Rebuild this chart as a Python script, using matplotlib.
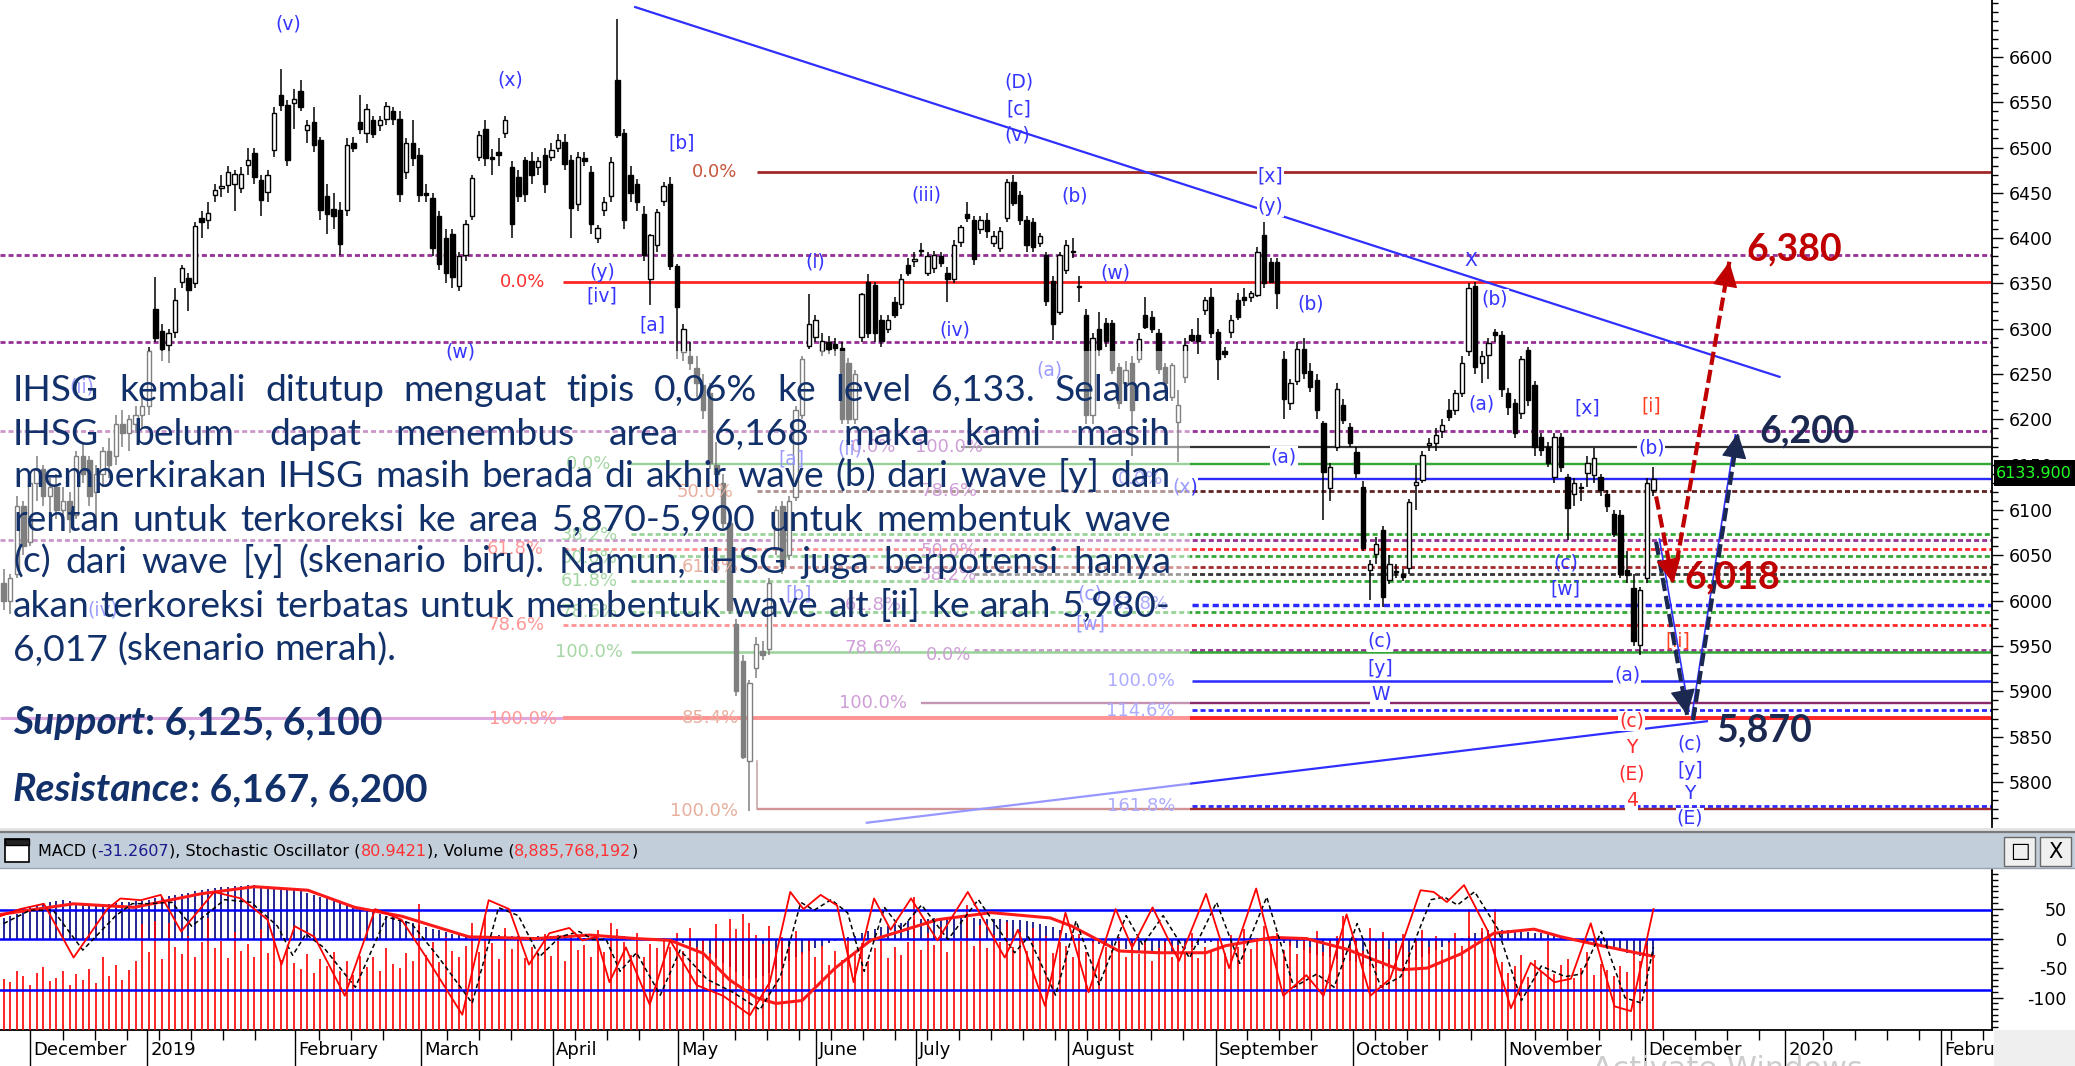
import numpy as np
import matplotlib
matplotlib.use("Agg")
import matplotlib.pyplot as plt
from matplotlib.patches import Rectangle, FancyArrowPatch
from matplotlib import font_manager as fm
from matplotlib.transforms import blended_transform_factory

# ===================== DATA =====================
opens = [6020,6000,6030,6105,6065,6130,6145,6115,6125,6100,
         6110,6095,6160,6155,6120,6140,6165,6160,6195,6185,
         6195,6205,6215,6322,6298,6282,6297,6352,6356,6350,
         6422,6420,6448,6455,6459,6460,6455,6481,6494,6464,
         6451,6497,6558,6547,6549,6562,6519,6528,6508,6446,
         6432,6431,6431,6505,6528,6516,6530,6525,6532,6540,
         6532,6473,6505,6492,6450,6444,6424,6400,6405,6347,
         6381,6424,6490,6521,6490,6495,6516,6479,6468,6486,
         6485,6478,6492,6490,6500,6506,6486,6438,6488,6473,
         6400,6431,6446,6574,6516,6470,6460,6427,6355,6393,
         6441,6460,6369,6274,6270,6257,6238,6229,6150,6130,
         6086,5974,5933,5823,5926,5945,5947,6057,6105,6050,
         6114,6205,6281,6291,6276,6285,6283,6279,6262,6200,
         6291,6352,6348,6310,6300,6330,6327,6370,6375,6386,
         6362,6367,6380,6362,6355,6396,6427,6420,6410,6420,
         6395,6389,6422,6462,6448,6420,6418,6395,6381,6353,
         6319,6365,6385,6346,6315,6205,6300,6306,6306,6258,
         6240,6262,6267,6315,6313,6295,6258,6225,6197,6247,
         6293,6293,6321,6335,6297,6275,6297,6332,6335,6335,
         6337,6404,6374,6374,6267,6218,6242,6278,6253,6244,
         6196,6124,6170,6216,6192,6164,6126,6034,6052,6078,
         6023,6032,6030,6036,6128,6133,6172,6174,6187,6210,
         6210,6229,6275,6347,6262,6271,6296,6293,6229,6218,
         6207,6277,6238,6181,6170,6137,6181,6137,6118,6125,
         6141,6139,6137,6118,6096,6095,6034,6014,5951,6025,
         6122]
highs = [6035,6030,6115,6110,6140,6160,6150,6135,6140,6125,
         6120,6165,6175,6160,6150,6170,6180,6205,6210,6205,
         6215,6230,6280,6357,6305,6300,6345,6370,6362,6418,
         6430,6440,6460,6470,6480,6475,6478,6500,6500,6470,
         6475,6545,6587,6552,6565,6575,6530,6545,6512,6460,
         6450,6440,6510,6512,6558,6548,6535,6535,6550,6545,
         6540,6510,6530,6500,6460,6450,6430,6410,6410,6385,
         6420,6470,6518,6530,6498,6510,6535,6485,6475,6490,
         6495,6490,6500,6505,6515,6515,6492,6495,6495,6480,
         6415,6445,6490,6642,6520,6480,6465,6435,6405,6432,
         6462,6468,6372,6305,6285,6270,6250,6240,6175,6140,
         6090,5980,5940,5912,5960,5955,6025,6105,6110,6115,
         6215,6270,6338,6315,6295,6292,6290,6285,6268,6255,
         6340,6360,6352,6315,6315,6335,6360,6378,6385,6395,
         6385,6386,6385,6368,6398,6415,6440,6425,6425,6428,
         6408,6412,6465,6470,6452,6425,6422,6406,6385,6358,
         6385,6398,6400,6358,6322,6295,6318,6312,6310,6262,
         6265,6270,6295,6335,6320,6300,6262,6262,6232,6290,
         6300,6312,6335,6345,6300,6280,6315,6340,6345,6342,
         6390,6418,6378,6378,6275,6245,6285,6290,6262,6250,
         6198,6152,6240,6222,6196,6170,6132,6045,6070,6082,
         6050,6040,6035,6112,6150,6165,6180,6190,6200,6222,
         6232,6270,6350,6352,6275,6290,6300,6298,6235,6222,
         6270,6280,6242,6185,6175,6185,6185,6140,6135,6130,
         6160,6168,6140,6122,6100,6100,6055,6030,6015,6135,
         6148]
lows = [5990,5985,6025,6050,6060,6110,6105,6095,6090,6085,
        6075,6090,6130,6105,6080,6125,6135,6150,6170,6165,
        6185,6190,6205,6285,6265,6262,6290,6345,6320,6345,
        6400,6410,6440,6445,6450,6430,6450,6470,6460,6425,
        6440,6490,6540,6480,6520,6540,6505,6495,6420,6405,
        6410,6381,6425,6495,6515,6505,6510,6518,6525,6525,
        6440,6465,6480,6440,6440,6380,6365,6350,6345,6342,
        6375,6420,6485,6480,6470,6480,6510,6400,6440,6440,
        6460,6470,6450,6485,6495,6475,6400,6430,6480,6405,
        6395,6425,6440,6510,6410,6440,6430,6375,6326,6385,
        6435,6365,6267,6265,6255,6225,6200,6145,6125,6080,
        5985,5895,5825,5768,5915,5935,5940,6050,6030,6045,
        6110,6200,6278,6285,6270,6272,6270,6195,6195,6195,
        6285,6290,6285,6280,6295,6312,6322,6358,6368,6380,
        6358,6362,6368,6330,6350,6390,6418,6370,6405,6400,
        6390,6385,6418,6435,6415,6385,6385,6390,6325,6288,
        6315,6360,6378,6330,6195,6195,6270,6280,6250,6212,
        6235,6160,6262,6300,6295,6250,6230,6220,6153,6240,
        6285,6272,6315,6290,6243,6268,6290,6310,6325,6330,
        6335,6345,6350,6322,6200,6210,6238,6245,6230,6200,
        6089,6110,6165,6195,6170,6135,6055,6001,6040,5993,
        6018,6025,6022,6030,6100,6130,6165,6165,6180,6198,
        6205,6225,6270,6250,6240,6245,6285,6225,6205,6180,
        6200,6215,6160,6160,6148,6130,6142,6067,6105,6110,
        6125,6130,6115,6098,6070,6025,6020,5950,5940,6020,
        6115]
closes = [6000,6025,6105,6060,6130,6145,6115,6125,6100,6110,
          6090,6160,6140,6115,6140,6165,6150,6195,6185,6200,
          6205,6215,6275,6290,6278,6295,6332,6367,6343,6413,
          6418,6428,6453,6458,6473,6471,6471,6486,6468,6442,
          6470,6538,6547,6486,6554,6545,6525,6503,6431,6427,
          6425,6394,6503,6500,6520,6543,6515,6530,6546,6532,
          6449,6505,6488,6448,6448,6389,6372,6362,6357,6380,
          6416,6466,6514,6488,6487,6492,6530,6416,6446,6449,
          6470,6485,6460,6497,6508,6482,6433,6490,6485,6416,
          6411,6440,6484,6514,6420,6450,6440,6381,6403,6429,
          6458,6369,6324,6300,6262,6240,6210,6152,6140,6086,
          5990,5900,5828,5909,5952,5940,6019,6100,6038,6110,
          6210,6267,6305,6310,6286,6278,6279,6200,6200,6250,
          6338,6295,6295,6286,6310,6315,6355,6362,6377,6387,
          6380,6381,6373,6355,6393,6412,6422,6377,6420,6408,
          6402,6408,6462,6439,6420,6393,6390,6402,6331,6305,
          6381,6393,6385,6346,6205,6290,6278,6286,6255,6218,
          6255,6210,6289,6302,6300,6256,6240,6260,6216,6282,
          6288,6286,6332,6295,6267,6272,6310,6313,6332,6339,
          6385,6350,6352,6339,6223,6240,6278,6251,6236,6210,
          6142,6148,6234,6199,6174,6141,6058,6041,6063,6004,
          6041,6033,6026,6109,6131,6161,6174,6183,6194,6203,
          6229,6262,6345,6258,6270,6284,6293,6234,6214,6185,
          6267,6221,6170,6166,6152,6181,6148,6102,6130,6124,
          6152,6157,6122,6104,6074,6030,6028,5955,6012,6130,
          6133.9]

# volume, billions of shares
volume_bn = [6.2,5.8,7.1,6.5,5.4,6.9,7.6,5.9,6.3,7.2,5.5,6.8,6.1,7.4,5.7,8.9,6.6,7.9,6.0,7.3,8.4,12.8,
             9.4,13.2,8.6,12.9,10.1,9.2,11.4,8.8,10.6,13.6,9.9,10.8,8.7,11.9,9.6,10.4,8.9,12.2,9.3,10.9,8.5,9.8,
             8.1,7.4,9.2,6.9,8.6,7.8,9.5,7.1,8.3,6.7,9.0,7.6,8.8,7.2,9.9,8.0,7.5,9.3,8.4,
             15.3,9.1,10.7,8.2,11.3,9.6,8.9,10.2,12.9,9.4,13.7,10.5,8.6,12.4,9.8,11.0,8.7,10.1,9.2,11.6,
             9.0,10.8,8.4,11.5,9.7,10.3,8.9,12.1,9.5,13.0,12.2,10.6,9.1,11.8,8.8,10.4,9.9,11.2,10.0,
             11.7,9.6,12.4,10.1,11.0,9.3,12.8,10.7,13.4,12.2,14.0,12.9,11.5,10.4,12.6,9.8,11.3,10.0,12.0,9.4,10.9,
             8.8,10.2,7.9,9.6,8.5,11.1,9.2,10.5,8.3,9.9,11.4,8.7,10.0,9.1,10.6,
             16.1,9.7,11.8,10.3,12.5,9.5,11.1,10.8,15.2,10.2,12.7,9.9,11.5,10.6,13.1,10.1,11.9,9.6,12.3,10.9,11.4,9.3,10.7,
             10.2,8.9,11.6,9.4,10.8,8.6,10.1,9.7,11.3,8.8,10.5,9.2,11.0,8.4,9.9,10.7,8.9,10.3,9.5,11.7,8.7,10.0,9.4,
             10.9,9.3,11.5,10.1,12.2,9.8,11.1,12.6,10.4,11.8,9.7,10.6,9.2,11.3,10.0,12.0,9.5,10.8,11.4,13.8,
             10.3,11.2,9.6,12.4,10.7,11.9,9.8,10.5,11.6,9.4,10.9,12.1,10.0,11.4,9.7,10.6,11.8,10.2,14.6,10.9,12.3,11.0,14.7,
             8.2,6.9,7.7,9.1,6.4,8.5,7.2,10.8,6.8,7.9,8.6,6.3,7.5,9.4,6.7,8.0,7.3,6.6,7.8,7.0,9.6,8.4,10.3,8.886]

macd = [35,38,41, 50,54,57,60,62,64,65,63, 61,58,56,55,57, 59,61,62,62,63,64,
        66,68,70,72,74,76,78,80,82, 84,86,87,88,89,90,91,91,90,89,
        88,87,85,83,80,77,74,71, 68,65,62,58,55,51,48,45, 42,39,36,33,30,26,23,20,
        17,14,11,8,6,4,3,3, 4,5,6,6,5,4,3,3,4,5,5,6,
        5,4,2,1,0,-1,1,3,6,5,3,1,-1,-2,0,1,-1,
        -4,-8,-12,-17,-21,-26, -33,-41,-49,-56,-63,-68, -67,-63,-58,-52,-45,-38,
        -32,-26,-21,-16,-12, -8,-4,-1,2,5,9,
        13,16,19,22,25,27,29,31,33,34,35, 35,36,36,36,35,35,34,34,33,33,32,
        32,31,30,28,25,22,19,15, 10,6,2,-3,-7,-10,-12,-14,
        -16,-18,-20,-21,-22,-23,-24,-24,-23,-21,-18,-15,-11,-8,-5,
        -3,-2,-1,0,1,1,0,-1,-2,-4, -8,-12,-16,-20,-24,-27,-30,-32,
        -34,-36,-38,-40,-43,-46,-48,-50,-50,-49, -46,-42,-37,-32,-26,-20,-14,-8,-3,
        1,5,9,12,14,15, 15,14,13,12,11,10,9,8, 6,4,2,0,-3,
        -6,-9,-12,-15,-18,-21,-24,-27,-30,-31,-31.26]

# stochastic %K / %D turning points (bar position, oscillator value 0-100)
stoch_k_x = [-0.5,2.5,6.1,10.6,15.7,17.7,20.8,23.8,26.9,31.9,36,40,42.1,44.1,47.1,51.7,56.3,60.3,64.4,69.5,
             73.5,76.6,79.6,82.7,85.7,87.7,89.8,91.8,94.3,97.9,101,105,109,113.1,116.1,119.2,121.2,123.8,126.3,128.8,
             131.9,134.4,137.5,141.5,146.1,151.7,153.7,157.8,160.9,164.4,168.5,171,174.1,178.1,182.2,185.7,189.8,193.9,197.4,200,
             203.5,207.1,210.1,214.7,216.7,218.7,221.3,224.8,228.4,231.4,235,237.5,240.5,244.1,246.6,250]
stoch_k = [75.6,80.9,84.9,44.4,80.9,88.9,87.6,91.6,64,93.8,88.9,72.9,39.1,68,60,15.6,80.9,72.9,41.8,1.3,
           87.6,80.9,39.1,62.7,66.7,57.3,60,25.8,52,8.9,57.3,23.6,15.6,1,25.8,93.8,80.9,91.6,83.6,25.8,
           88.9,65.3,88.9,57.3,93.8,44.4,65.3,8,78.2,18.2,80.9,52,82.2,41.8,92.4,36.4,96.4,15.6,31.1,15.6,
           76.9,15.6,28.4,95.1,93.8,86.2,99,65.3,6.2,40.4,25.8,28.4,70.2,7.6,4,80.94]
stoch_d_x = [0,4,7.5,12,17,19.5,22,25.5,28.5,33.5,37.5,41.5,43.8,45.8,48.5,53.3,58,61.8,66,71,75,78,81.2,84.3,
             87.2,89.3,91.3,93.4,95.9,99.5,102.5,106.6,110.6,114.6,117.7,120.8,122.8,125.4,127.9,130.4,133.5,136,
             139.1,143.1,147.7,153.2,155.3,159.4,162.5,166,170.1,172.6,175.7,179.7,183.8,187.3,191.4,195.5,199,201.6,
             205.1,208.7,211.7,216.3,218.3,220.3,222.9,226.4,230,233,236.6,239.1,242.1,245.7,248.2,250]
stoch_d = [70,80,80,50,76,85,85,86,68,88,86,68,46,62,52,22,75,70,44,10,82,76,45,60,
           64,58,58,34,48,16,50,28,18,5,30,86,80,88,78,34,82,66,
           84,58,88,48,60,16,72,24,76,54,76,44,86,40,90,22,32,22,
           70,22,30,88,90,84,94,66,12,38,30,32,64,14,10,52]
# slow red line of the lower pane (pane units)
slow_x = [-0.5,10.6,19.8,29.9,38,46.1,53.2,60.3,70.5,80.6,88.8,95.9,101,106,110,114,117,121,126,131.4,
          141.5,149.6,158.6,161.9,169,175,182.2,185.2,192.3,197.4,203.5,211.6,215.7,220.8,225.8,231.9,236,242.1,250]
slow_v = [41,59,53,76,88,82,53,38,3,0,6,0,-3,-25,-70,-100,-110,-105,-50,-3,
          32,44,35,21,-21,-24,-24,-12,2,0,-18,-53,-50,-26,9,16,3,-12,-30]

price_ticks = list(range(5800, 6601, 50))
pane_ticks = [-100, -50, 0, 50]
month_pos = [4, 21.7, 44.2, 63.2, 83.2, 102.2, 123.1, 138.2, 161.3, 183.7, 204.5, 227.5, 248.7, 270.0, 293.6]
month_lbl = ['December', '2019', 'February', 'March', 'April', 'May', 'June', 'July',
             'August', 'September', 'October', 'November', 'December', '2020', 'February']

body_lines = ["IHSG kembali ditutup menguat tipis 0,06% ke level 6,133. Selama",
              "IHSG belum dapat menembus area 6,168 maka kami masih",
              "memperkirakan IHSG masih berada di akhir wave (b) dari wave [y] dan",
              "rentan untuk terkoreksi ke area 5,870-5,900 untuk membentuk wave",
              "(c) dari wave [y] (skenario biru). Namun, IHSG juga berpotensi hanya",
              "akan terkoreksi terbatas untuk membentuk wave alt [ii] ke arah 5,980-",
              "6,017 (skenario merah)."]

# ===================== FIGURE =====================
W, H = 2075, 1066
fig = plt.figure(figsize=(W / 100, H / 100), dpi=100)
fig.patch.set_facecolor('white')
renderer = fig.canvas.get_renderer()

def FX(px): return px / W
def FY(py): return 1 - py / H

names = {f.name for f in fm.fontManager.ttflist}
def pick(*c):
    for n in c:
        if n in names:
            return n
    return 'DejaVu Sans'
BODY = pick('Lato', 'Open Sans', 'Noto Sans')
BIG = pick('Liberation Sans Narrow', 'Lato', 'Roboto')
UI = 'DejaVu Sans'

NAVY = '#12306a'
BL = '#3535ff'
RD = '#ff2a2a'
DKRED = '#a3282a'
RED = '#ff2626'
GREEN = '#34a834'
BLUE = '#2a2aff'
PURP = '#972f97'
GREY = '#333333'
BROWN = '#5e2222'
DASH = (0, (1.8, 1.1))
WAVE_FS = 13.5
FIB_FS = 13

X0, X1 = -0.55, 301.3
P0, P1 = 5750.3, 6662.8

# ---------------- main price axes ----------------
ax = fig.add_axes([0, FY(827), FX(1992), 827 / H])
ax.set_xlim(X0, X1)
ax.set_ylim(P0, P1)
for s in ['left', 'top', 'bottom']:
    ax.spines[s].set_visible(False)
ax.spines['right'].set_linewidth(1.3)
ax.yaxis.tick_right()
ax.set_yticks(price_ticks, labels=[str(t) for t in price_ticks])
ax.set_yticks(np.arange(5760, 6661, 10), minor=True)
ax.tick_params(axis='y', which='major', length=8, width=1, labelsize=12.5, pad=4)
ax.tick_params(axis='y', which='minor', length=4, width=1)
ax.set_xticks([])

o = np.array(opens, float); h = np.array(highs, float)
l = np.array(lows, float); c = np.array(closes, float)
n = min(len(o), len(h), len(l), len(c))
o, h, l, c = o[:n], h[:n], l[:n], c[:n]
h = np.maximum(h, np.maximum(o, c)); l = np.minimum(l, np.minimum(o, c))
x = np.arange(n)
ax.vlines(x, l, h, color='black', lw=1.1, zorder=3)
body_lo = np.minimum(o, c)
body_h = np.maximum(np.abs(c - o), 1.3)
ax.bar(x, body_h, bottom=body_lo, width=0.66,
       color=['white' if cc >= oo else 'black' for oo, cc in zip(o, c)],
       edgecolor='black', linewidth=1.0, zorder=3.2)

def hline(p, xs, color, ls='-', lw=1.6, xe=X1, z=2):
    ax.plot([xs, xe], [p, p], color=color, ls=ls, lw=lw, zorder=z,
            solid_capstyle='butt', dash_capstyle='butt')

# fibonacci / level lines
hline(6473, 114.2, DKRED, '-', 2.0)
hline(6381, X0, PURP, DASH, 2.0)
hline(6352, 84.7, RED, '-', 2.0)
hline(6285, X0, PURP, DASH, 2.0)
hline(6187, X0, PURP, DASH, 2.0)
hline(6170, 145.0, GREY, '-', 1.6)
hline(6151, 95.0, GREEN, '-', 1.7)
hline(6134, 181.0, BLUE, '-', 1.7)
hline(6121, 114.2, BROWN, DASH, 2.0)
hline(6074, 95.0, GREEN, DASH, 2.0)
hline(6067, X0, PURP, DASH, 2.0)
hline(6057, 84.7, RED, DASH, 2.0)
hline(6049, 95.0, GREEN, DASH, 2.0)
hline(6037, 114.2, DKRED, DASH, 2.0)
hline(6029, 147.0, GREY, DASH, 2.0)
hline(6022, 95.0, GREEN, DASH, 2.0)
hline(5995, 180.0, BLUE, DASH, 2.5)
hline(5988, 95.0, GREEN, DASH, 2.0)
hline(5973, 84.7, RED, DASH, 2.0)
hline(5946, 147.0, PURP, DASH, 2.0)
hline(5943, 95.0, GREEN, '-', 1.8)
hline(5911, 180.0, BLUE, '-', 1.8)
hline(5887, 139.0, '#8a2a6a', '-', 1.7)
hline(5879, 180.0, BLUE, DASH, 2.0)
hline(5871, X0, '#c050c0', '-', 2.2, xe=84.7)
hline(5871, 84.7, RED, '-', 2.8)
hline(5774, 180.0, BLUE, DASH, 2.0)
hline(5770, 114.2, DKRED, '-', 1.7)
ax.plot([114.2, 114.2], [5770, 5823], color='#9a5050', lw=1.2, zorder=2)

# trend lines
ax.plot([95.7, 269.1], [6655, 6247], color='#2f2fff', lw=1.6, zorder=2.5)
ax.plot([130.8, 258.1], [5755, 5867], color='#2f2fff', lw=1.6, zorder=2.5)

# fib labels (text, x, price, colour)
fib_labels = [("0.0%", 78.7, 6352, '#ff3030'), ("61.8%", 77.6, 6057, '#ff3030'),
              ("78.6%", 77.6, 5973, '#ff3030'), ("100.0%", 78.7, 5870, '#ff3030'),
              ("0.0%", 107.7, 6473, '#c8553d'), ("50.0%", 106.3, 6120, '#d0603d'),
              ("61.8%", 107.1, 6037, '#d0603d'), ("85.4%", 107.1, 5871, '#d0603d'),
              ("100.0%", 106.1, 5768, '#d0603d'),
              ("0.0%", 88.7, 6151, '#4caf4c'), ("38.2%", 88.7, 6072, '#4caf4c'),
              ("50.0%", 88.7, 6047, '#4caf4c'), ("61.8%", 88.7, 6022, '#4caf4c'),
              ("78.6%", 88.7, 5988, '#4caf4c'), ("100.0%", 88.7, 5943, '#4caf4c'),
              ("0.0%", 131.8, 6170, '#a040b0'), ("61.8%", 131.8, 5995, '#a040b0'),
              ("78.6%", 131.8, 5948, '#a040b0'), ("100.0%", 131.8, 5887, '#a040b0'),
              ("100.0%", 143.2, 6170, '#a040b0'), ("78.6%", 143.2, 6121, '#a040b0'),
              ("50.0%", 143.2, 6055, '#a040b0'), ("38.2%", 143.2, 6028, '#a040b0'),
              ("0.0%", 143.2, 5940, '#a040b0'),
              ("0.0%", 172.3, 6134, '#5a5aff'), ("61.8%", 172.3, 5996, '#5a5aff'),
              ("100.0%", 172.3, 5911, '#5a5aff'), ("114.6%", 172.3, 5878, '#5a5aff'),
              ("161.8%", 172.3, 5773, '#5a5aff')]
for t, xi, p, col in fib_labels:
    ax.text(xi, p, t, color=col, fontsize=FIB_FS, family=UI, ha='center', va='center', zorder=4)

# wave labels: (text, x, price, colour, kind) kind 0 plain, 1 with white gap, 2 behind text panel
wave_labels = [("(v)", 43.2, 6636, BL, 0), ("(x)", 76.7, 6575, BL, 0), ("[b]", 102.7, 6505, BL, 0),
               ("(D)", 153.8, 6572, BL, 0), ("[c]", 153.8, 6543, BL, 0), ("(v)", 153.6, 6514, BL, 0),
               ("(iii)", 139.8, 6448, BL, 0), ("(b)", 162.3, 6447, BL, 0), ("(i)", 123, 6374, BL, 0),
               ("(w)", 168.5, 6362, BL, 0), ("(w)", 69.2, 6274, BL, 0), ("(y)", 90.7, 6362, BL, 0),
               ("[iv]", 90.7, 6336, BL, 0), ("[a]", 98.3, 6304, BL, 0), ("(iv)", 144.2, 6299, BL, 0),
               ("(b)", 198, 6327, BL, 0), ("X", 222.4, 6375, BL, 0), ("(a)", 224, 6217, BL, 0),
               ("[x]", 240, 6213, BL, 0), ("[i]", 249.7, 6215, '#ff4020', 0),
               ("(c)", 236.7, 6042, BL, 0), ("[w]", 236.7, 6013, BL, 0), ("[ii]", 253.7, 5956, '#ff4020', 0),
               ("[x]", 192, 6469, BL, 1), ("(y)", 192, 6435, BL, 1), ("(b)", 226, 6333, BL, 1),
               ("(b)", 249.7, 6169, BL, 1), ("(a)", 194, 6159, BL, 1),
               ("(c)", 208.6, 5955, BL, 1), ("[y]", 208.6, 5925, BL, 1), ("W", 208.6, 5896, BL, 1),
               ("(a)", 246, 5918, BL, 1),
               ("(c)", 246.7, 5867, RD, 1), ("Y", 246.7, 5838, RD, 1), ("(E)", 246.7, 5809, RD, 1),
               ("4", 246.7, 5779, RD, 1),
               ("(c)", 255.5, 5842, BL, 1), ("[y]", 255.5, 5813, BL, 1), ("Y", 255.5, 5787, BL, 1),
               ("(E)", 255.5, 5760, BL, 1),
               ("(ii)", 11.9, 6236, BL, 2), ("(iv)", 15, 5990, BL, 2), ("[a]", 119.4, 6156, BL, 2),
               ("[b]", 120.4, 6007, BL, 2), ("(ii)", 128.2, 6167, BL, 2), ("(a)", 158.5, 6255, BL, 2),
               ("(c)", 164.6, 6007, BL, 2), ("[w]", 164.6, 5974, BL, 2), ("(x)", 179, 6126, BL, 2)]
for t, xi, p, col, kind in wave_labels:
    kw = dict(color=col, fontsize=WAVE_FS, family=UI, ha='center', va='center')
    if kind == 1:
        ax.text(xi, p, t, zorder=6, bbox=dict(facecolor='white', edgecolor='none', pad=0.6), **kw)
    elif kind == 2:
        ax.text(xi, p, t, zorder=4, **kw)
    else:
        ax.text(xi, p, t, zorder=6, **kw)

# translucent panel behind the commentary
ax.add_patch(Rectangle((X0, P0), 179.8 - X0, 6276 - P0, facecolor='white', alpha=0.5,
                       edgecolor='none', zorder=5))

# scenario arrows
def dashed_arrow(x0, y0, x1, y1, color, lw):
    ax.plot([x0, x1], [y0, y1], color=color, lw=lw, ls=(0, (3.2, 1.2)), zorder=7, dash_capstyle='butt')
    fr = 0.97
    ax.add_patch(FancyArrowPatch((x0 + (x1 - x0) * fr, y0 + (y1 - y0) * fr), (x1, y1),
                                 arrowstyle='-|>,head_length=0.9,head_width=0.45', mutation_scale=18,
                                 color=color, lw=1, zorder=7.5, shrinkA=0, shrinkB=0))

ax.plot([250.9, 255.4], [6068, 5878], color='#3030ff', lw=1.2, zorder=6.9)
ax.plot([255.8, 262.4], [5872, 6183], color='#3030ff', lw=1.2, zorder=6.9)
dashed_arrow(250.4, 6115, 253.0, 6019, '#c00000', 3.0)
dashed_arrow(253.5, 6041, 261.5, 6374, '#c00000', 3.0)
dashed_arrow(250.4, 6065, 255.1, 5874, '#1b2850', 3.0)
dashed_arrow(256.0, 5868, 262.8, 6185, '#1b2850', 3.0)

for t, xi, p, col in [("6,380", 264.1, 6388, '#c00000'), ("6,200", 266.1, 6187, '#1b2850'),
                      ("6,018", 254.7, 6026, '#c00000'), ("5,870", 259.5, 5857, '#1b2850')]:
    ax.text(xi, p, t, color=col, fontsize=27, fontweight='bold', family=BIG,
            ha='left', va='center', zorder=8)

# last price box
fig.add_artist(Rectangle((FX(1994), FY(486)), FX(2075) - FX(1994), 26 / H, transform=fig.transFigure,
                         facecolor='black', edgecolor='none', zorder=20))
fig.text(FX(2034), FY(473), "6133.900", color='#22ff22', fontsize=11.5, family=UI,
         ha='center', va='center', zorder=21)

# ---------------- lower pane ----------------
ax2 = fig.add_axes([0, FY(1030), FX(1992), 161 / H])
ax2.set_xlim(X0, X1)
ax2.set_ylim(-155, 118)
ax2.spines['top'].set_visible(False)
ax2.spines['left'].set_visible(False)
ax2.spines['right'].set_linewidth(1.3)
ax2.spines['bottom'].set_linewidth(1.3)
ax2.yaxis.tick_right()
ax2.set_yticks(pane_ticks, labels=[str(t) for t in pane_ticks])
ax2.set_yticks(np.arange(-150, 111, 10), minor=True)
ax2.tick_params(axis='y', which='major', length=8, width=1, labelsize=12.5, pad=46)
ax2.tick_params(axis='y', which='minor', length=4, width=1)
for lab in ax2.get_yticklabels():
    lab.set_horizontalalignment('right')
ax2.set_xticks(month_pos, labels=[])
ax2.set_xticks([v for v in np.arange(9, 300, 4.85) if min(abs(v - m) for m in month_pos) > 1.5], minor=True)
ax2.tick_params(axis='x', which='major', direction='out', length=26, width=1)
ax2.tick_params(axis='x', which='minor', direction='out', length=7, width=1)

xm = np.arange(len(macd))
ax2.vlines(xm, 0, macd, color='#000080', lw=1.2, zorder=2)
xv = np.arange(len(volume_bn))
ax2.vlines(xv, -155, -155 + np.array(volume_bn) * 14, color='#ff0000', lw=1.2, zorder=3)
for v in (48, 0, -87):
    ax2.axhline(v, color='#0000ff', lw=1.8, zorder=4)
ax2.plot(slow_x, slow_v, color='#ff1a1a', lw=2.2, zorder=5)
kmap = lambda s: (np.asarray(s, float) - 20) * 2.25 - 87
ax2.plot(stoch_d_x, kmap(stoch_d), color='black', lw=1.1, ls=(0, (3, 2)), zorder=6)
ax2.plot(stoch_k_x, kmap(stoch_k), color='#ff0000', lw=1.3, zorder=6.5)

btr = blended_transform_factory(ax2.transData, fig.transFigure)
for mp, ml in zip(month_pos, month_lbl):
    ax2.text(mp + 0.5, FY(1050), ml, transform=btr, fontsize=13, family=UI,
             ha='left', va='center', color='black')

# title bar of lower pane
fig.add_artist(Rectangle((0, FY(869)), 1, (869 - 828) / H, transform=fig.transFigure,
                         facecolor='#c3cedb', edgecolor='none', zorder=1))
fig.add_artist(Rectangle((0, FY(833)), 1, 5 / H, transform=fig.transFigure,
                         facecolor='#e4e4e4', edgecolor='none', zorder=1.1))
fig.add_artist(plt.Line2D([0, 1], [FY(832), FY(832)], transform=fig.transFigure, color='#7a7a7a', lw=1.6, zorder=1.2))
fig.add_artist(plt.Line2D([0, 1], [FY(868), FY(868)], transform=fig.transFigure, color='#9aa4b0', lw=1.0, zorder=1.2))
fig.add_artist(Rectangle((FX(5), FY(862)), 24 / W, 23 / H, transform=fig.transFigure,
                         facecolor='white', edgecolor='black', lw=1.2, zorder=2))
fig.add_artist(Rectangle((FX(5), FY(845)), 24 / W, 6 / H, transform=fig.transFigure,
                         facecolor='#222222', edgecolor='black', lw=1.0, zorder=2.1))
segs = [("MACD (", 'black'), ("-31.2607", '#1a1a8c'), ("), Stochastic Oscillator (", 'black'),
        ("80.9421", '#ff3030'), ("), Volume (", 'black'), ("8,885,768,192", '#ff3030'), (")", 'black')]
xp = 38
for s, col in segs:
    t = fig.text(FX(xp), FY(851), s, color=col, fontsize=11.5, family=UI, ha='left', va='center', zorder=3)
    xp += t.get_window_extent(renderer).width
for bx, sym in [(2004, "\u25a1"), (2040, "X")]:
    fig.add_artist(Rectangle((FX(bx), FY(866)), 31 / W, 29 / H, transform=fig.transFigure,
                             facecolor='#f0f0f0', edgecolor='#6a6a6a', lw=1.0, zorder=3))
    fig.text(FX(bx + 15.5), FY(851.5), sym, fontsize=15, family=UI, ha='center', va='center', zorder=4)

# right part of the date band
fig.add_artist(Rectangle((FX(1993.5), 0), 1 - FX(1993.5), 36 / H, transform=fig.transFigure,
                         facecolor='#efefef', edgecolor='none', zorder=5))
fig.text(FX(1592), FY(1070), "Activate Windows", fontsize=22, family=UI, color='#cdcdcd',
         ha='left', va='center', zorder=6)

# ---------------- commentary text ----------------
def width_of(s, **kw):
    t = fig.text(0, 0, s, **kw)
    w = t.get_window_extent(renderer).width
    t.remove()
    return w

w_ref = width_of(body_lines[-1], fontsize=20, family=BODY)
bsize = float(np.clip(20 * 384 / w_ref, 21, 29))
baselines = [401, 445, 487, 531, 573, 617, 661]
XL, XR = 13, 1171
for k, (line, yb) in enumerate(zip(body_lines, baselines)):
    words = line.split(' ')
    ts = [fig.text(0, FY(yb), wd, fontsize=bsize, family=BODY, color=NAVY,
                   ha='left', va='baseline', zorder=10) for wd in words]
    ws = [t.get_window_extent(renderer).width for t in ts]
    if k < len(body_lines) - 1:
        gap = (XR - XL - sum(ws)) / (len(ws) - 1)
    else:
        gap = width_of('a a', fontsize=bsize, family=BODY) - width_of('aa', fontsize=bsize, family=BODY)
    xx = XL
    for t, w in zip(ts, ws):
        t.set_x(FX(xx))
        xx += w + gap

w_sup = (width_of("Support", fontsize=20, family=BODY, fontweight='bold', fontstyle='italic') +
         width_of(": 6,125, 6,100", fontsize=20, family=BODY, fontweight='bold'))
ssize = float(np.clip(20 * 371 / w_sup, 22, 31))
for lead, rest, yb in [("Support", ": 6,125, 6,100", 734), ("Resistance", ": 6,167, 6,200", 801)]:
    t1 = fig.text(FX(XL), FY(yb), lead, fontsize=ssize, family=BODY, fontweight='bold',
                  fontstyle='italic', color=NAVY, ha='left', va='baseline', zorder=10)
    w1 = t1.get_window_extent(renderer).width
    fig.text(FX(XL + w1), FY(yb), rest, fontsize=ssize, family=BODY, fontweight='bold',
             color=NAVY, ha='left', va='baseline', zorder=10)

fig.savefig("out.png", dpi=100, facecolor='white')
